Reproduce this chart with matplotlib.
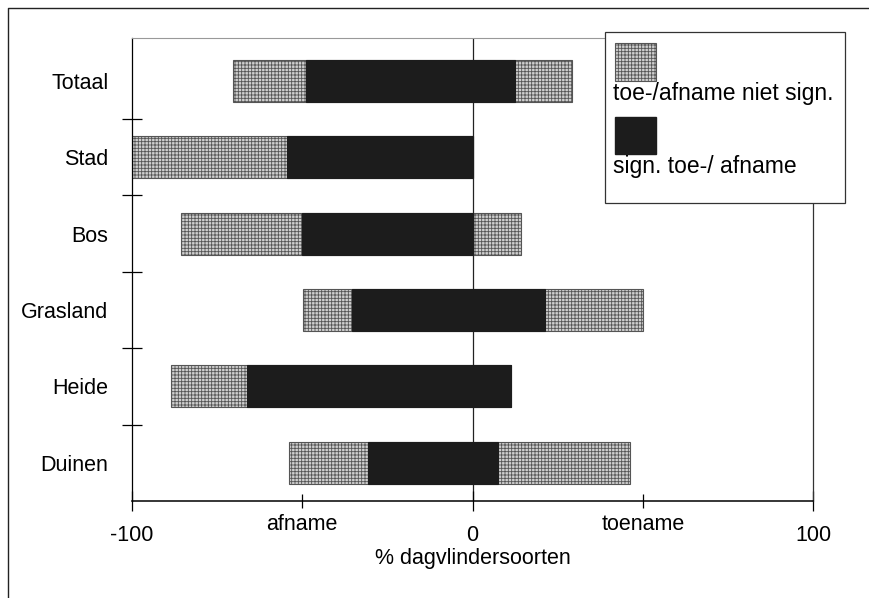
import matplotlib.pyplot as plt
from matplotlib.lines import Line2D
from matplotlib.patches import Rectangle

plt.rcParams["font.family"] = ["Liberation Sans", "DejaVu Sans"]
plt.rcParams["hatch.linewidth"] = 0.6

# % dagvlindersoorten per landschapstype
categories = ["Totaal", "Stad", "Bos", "Grasland", "Heide", "Duinen"]
sig_decrease = [48.8, 54.4, 50.0, 35.3, 66.2, 30.6]
nonsig_decrease = [21.5, 45.6, 35.6, 14.4, 22.3, 23.2]
sig_increase = [12.4, 0.0, 0.0, 21.2, 11.2, 7.6]
nonsig_increase = [16.7, 0.0, 14.1, 28.8, 0.0, 38.6]

BLACK = "#1c1c1c"
GREY_STYLE = dict(facecolor="#cfcfcf", edgecolor="#555555", hatch="+++++", linewidth=0.8)
FONTSIZE = 15.5


def main() -> None:
    figure = plt.figure(figsize=(8.69, 5.98), dpi=100)
    axis = figure.add_axes([132 / 869, 1 - 501 / 598, 681 / 869, 463 / 598])

    ypos = list(range(len(categories)))
    height = 0.55

    axis.axvline(0, color="#222222", linewidth=0.9, zorder=1)

    # grijze balk over het volledige bereik, zwart (significant) erbovenop
    grey_left = [-(s + n) for s, n in zip(sig_decrease, nonsig_decrease)]
    grey_width = [s + n + si + ni for s, n, si, ni in
                  zip(sig_decrease, nonsig_decrease, sig_increase, nonsig_increase)]
    axis.barh(ypos, grey_width, left=grey_left, height=height, zorder=2, **GREY_STYLE)
    black_left = [-s for s in sig_decrease]
    black_width = [s + si for s, si in zip(sig_decrease, sig_increase)]
    axis.barh(ypos, black_width, left=black_left, height=height,
              color=BLACK, edgecolor=BLACK, linewidth=0.8, zorder=3)

    axis.set_xlim(-100, 100)
    axis.set_ylim(5.5, -0.56)

    axis.set_yticks([y + 0.5 for y in ypos[:-1]])
    axis.set_yticklabels([])
    axis.set_yticks(ypos, minor=True)
    axis.set_yticklabels(categories, minor=True, fontsize=FONTSIZE)
    axis.tick_params(axis="y", which="major", direction="inout", length=14, width=0.9)
    axis.tick_params(axis="y", which="minor", length=0, pad=17)

    axis.set_xticks([-100, 0, 100])
    axis.set_xticklabels(["-100", "0", "100"], fontsize=FONTSIZE)
    axis.set_xticks([-50, 50], minor=True)
    axis.set_xticklabels(["afname", "toename"], minor=True, fontsize=FONTSIZE)
    axis.tick_params(axis="x", which="major", direction="inout", length=14, width=0.9, pad=10)
    axis.tick_params(axis="x", which="minor", direction="inout", length=10, width=0.9, pad=4)
    axis.set_xlabel("% dagvlindersoorten", fontsize=FONTSIZE, labelpad=2)

    axis.spines["top"].set_color("#999999")
    axis.spines["top"].set_linewidth(0.8)
    axis.spines["right"].set_color("#333333")
    axis.spines["right"].set_linewidth(0.9)
    axis.spines["left"].set_linewidth(0.9)
    axis.spines["bottom"].set_linewidth(1.1)

    # legenda: vakje boven de tekst
    figure.add_artist(Rectangle((605 / 869, 1 - 203 / 598), 240 / 869, 171 / 598,
                                transform=figure.transFigure, facecolor="white",
                                edgecolor="#333333", linewidth=0.9, zorder=5))
    figure.add_artist(Rectangle((615 / 869, 1 - 81 / 598), 41 / 869, 38 / 598,
                                transform=figure.transFigure, zorder=6, **GREY_STYLE))
    figure.text(613 / 869, 1 - 100 / 598, "toe-/afname niet sign.", fontsize=16.5, zorder=6)
    figure.add_artist(Rectangle((615 / 869, 1 - 154 / 598), 41 / 869, 37 / 598,
                                transform=figure.transFigure, facecolor=BLACK,
                                edgecolor=BLACK, zorder=6))
    figure.text(613 / 869, 1 - 173 / 598, "sign. toe-/ afname", fontsize=16.5, zorder=6)

    # kader rond de figuur
    figure.add_artist(Line2D([8 / 869, 8 / 869, 1.0], [0.0, 1 - 8 / 598, 1 - 8 / 598],
                             transform=figure.transFigure, color="#222222", linewidth=1.0))

    figure.savefig("out.png", dpi=100)
    plt.close(figure)


if __name__ == "__main__":
    main()
